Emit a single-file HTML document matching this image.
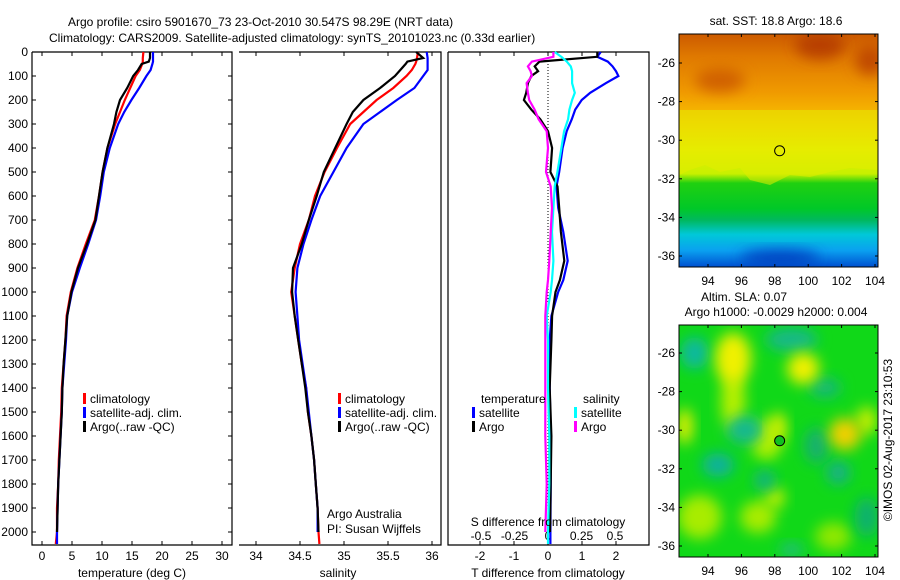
<!DOCTYPE html>
<html><head><meta charset="utf-8"><style>
body{margin:0;background:#fff;width:900px;height:580px;overflow:hidden}
svg{display:block;font-family:"Liberation Sans",sans-serif;font-size:12px}
</style></head><body>
<svg id="fig" width="900" height="580" xmlns="http://www.w3.org/2000/svg">
<defs>
<linearGradient id="sstg" x1="0" y1="0" x2="0" y2="1">
<stop offset="0" stop-color="#cc5a00"/><stop offset="0.1" stop-color="#e07a00"/><stop offset="0.25" stop-color="#f09a00"/><stop offset="0.38" stop-color="#f8c400"/><stop offset="0.5" stop-color="#e8ec00"/><stop offset="0.6" stop-color="#c8f000"/><stop offset="0.64" stop-color="#20d010"/><stop offset="0.75" stop-color="#00c828"/><stop offset="0.8" stop-color="#00b860"/><stop offset="0.86" stop-color="#00c8d8"/><stop offset="0.93" stop-color="#0aa0f0"/><stop offset="1" stop-color="#0050d0"/>
</linearGradient>
<filter id="blur" x="-50%" y="-50%" width="200%" height="200%"><feGaussianBlur stdDeviation="7"/></filter>
<clipPath id="m1"><rect x="679" y="34" width="199" height="233"/></clipPath>
<clipPath id="m2"><rect x="679" y="325" width="199" height="232"/></clipPath>
</defs>
<text x="68" y="26">Argo profile: csiro 5901670_73 23-Oct-2010 30.547S 98.29E (NRT data)</text>
<text x="49" y="42">Climatology: CARS2009. Satellite-adjusted climatology: synTS_20101023.nc (0.33d earlier)</text>
<g id="g1"></g>
<g id="g2"></g>
<g id="g3"></g>
<g id="maps"></g>
<text transform="translate(892,440) rotate(-90)" text-anchor="middle">©IMOS 02-Aug-2017 23:10:53</text>
</svg>
<script>
const NS="http://www.w3.org/2000/svg";
// depth levels (m)
const depths=[0,25,40,50,75,100,150,200,250,300,400,500,600,700,800,900,1000,1100,1200,1300,1400,1500,1600,1700,1800,1900,2000,2050];
const tempClim=[16.9,16.8,16.8,16.7,16.3,15.6,14.7,13.8,13.0,12.2,10.9,10.1,9.5,8.8,7.3,5.9,4.8,4.1,3.9,3.6,3.3,3.2,3.0,2.8,2.7,2.5,2.5,2.3];
const tempSat=[18.5,18.5,18.5,18.4,18.1,17.4,16.2,14.9,13.7,12.7,11.3,10.3,9.7,9.0,7.7,6.3,5.0,4.2,4.0,3.7,3.4,3.3,3.1,2.9,2.7,2.6,2.5,2.5];
const tempArgo=[18.0,18.0,17.8,16.6,16.0,15.2,14.2,13.0,12.4,12.0,10.9,10.1,9.5,8.9,7.5,6.0,4.9,4.2,3.9,3.6,3.4,3.3,3.1,2.9,2.7,2.6,2.5,null];
const salClim=[35.84,35.83,35.82,35.81,35.77,35.71,35.56,35.37,35.22,35.07,34.92,34.78,34.67,34.60,34.50,34.44,34.40,34.44,34.48,34.52,34.57,34.59,34.63,34.66,34.68,34.70,34.71,34.72];
const salSat=[35.94,35.95,35.95,35.95,35.95,35.90,35.80,35.60,35.41,35.22,35.03,34.88,34.73,34.63,34.54,34.47,34.45,34.47,34.49,34.53,34.57,34.60,34.63,34.66,34.68,34.70,34.70,null];
const salArgo=[35.82,35.90,35.72,35.70,35.64,35.58,35.41,35.22,35.10,35.03,34.90,34.77,34.69,34.60,34.52,34.42,34.41,34.44,34.48,34.52,34.56,34.59,34.63,34.66,34.68,34.70,34.71,null];
// difference profiles
const dDepths=[0,20,40,60,80,100,130,170,200,240,280,330,400,500,560,650,750,870,950,1000,1100,1200,1400,1600,1800,2000,2050];
const dTsat=[1.55,1.45,1.76,1.9,2.0,2.07,1.7,1.24,0.99,0.8,0.7,0.55,0.43,0.33,0.25,0.3,0.45,0.58,0.45,0.3,0.1,0.05,0.05,0.08,0.08,0.07,0.07];
const dTargo=[1.45,1.45,-0.25,-0.39,-0.29,-0.49,-0.59,-0.64,-0.71,-0.49,-0.23,0.0,0.12,0.07,0.28,0.33,0.38,0.48,0.35,0.22,0.12,0.1,0.05,0.1,0.08,0.06,null];
const dSsat=[0.05,0.1,0.14,0.17,0.18,0.18,0.18,0.2,0.18,0.16,0.15,0.12,0.1,0.07,0.05,0.04,0.03,0.04,0.03,0.02,-0.01,0.0,0.0,0.01,0.01,0.0,0.0];
const dSargo=[0.04,0.04,-0.12,-0.15,-0.13,-0.12,-0.16,-0.15,-0.14,-0.1,-0.07,-0.01,0.0,-0.015,0.02,0.03,0.02,0.01,0.0,-0.01,-0.02,-0.02,-0.02,-0.02,-0.01,-0.02,null];
const depthTicks=[0,100,200,300,400,500,600,700,800,900,1000,1100,1200,1300,1400,1500,1600,1700,1800,1900,2000];
const tTicks=[0,5,10,15,20,25,30];
const sTicks=[34,34.5,35,35.5,36];
const dTTicks=[-2,-1,0,1,2];
const dSTicks=[-0.5,-0.25,0,0.25,0.5];
const lonTicks=[94,96,98,100,102,104];
const latTicks=[-26,-28,-30,-32,-34,-36];
const argoLon=98.29, argoLat=-30.547;

const TOP=52,BOT=545;
const yD=d=>TOP+d*0.24;
const xT=t=>42+t*6;
const xS=s=>256+(s-34)*88;
const xDT=v=>548+v*34;
const xDS=v=>548+v*134;

function el(tag,attrs,parent,text){const e=document.createElementNS(NS,tag);for(const k in attrs)e.setAttribute(k,attrs[k]);if(text!==undefined)e.textContent=text;parent.appendChild(e);return e;}
function line(vals,ds,fx,color,parent,name,w){
  let pts=[];
  for(let i=0;i<vals.length;i++){if(vals[i]===null)continue;pts.push(fx(vals[i]).toFixed(1)+","+yD(ds[i]).toFixed(1));}
  const p=el("polyline",{points:pts.join(" "),fill:"none",stroke:color,"stroke-width":w||2.2,"stroke-linejoin":"miter"},parent);
  
  
}
function box(parent,x0,x1,left,name){
  const g=el("g",{},parent);
  
  
  let d=`M${x0},${TOP}H${x1}V${BOT}H${x0}`+(left?`V${TOP}`:"");
  el("path",{d:d,fill:"none",stroke:"#000","stroke-width":1.2},g);
}
function legend(parent,x,y,color,label,name){
  const r=el("rect",{x:x,y:y-6,width:3,height:11,fill:color},parent);
  
  
  const t=el("text",{x:x+7,y:y+4},parent,label);
  
  
}

// Panel 1
const g1=document.getElementById("g1");
box(g1,32,232,true,"temperature-axes-box");
depthTicks.forEach(d=>{
  el("line",{x1:32,x2:36,y1:yD(d),y2:yD(d),stroke:"#000"},g1);
  el("line",{x1:228,x2:232,y1:yD(d),y2:yD(d),stroke:"#000"},g1);
  const t=el("text",{x:28,y:yD(d)+4,"text-anchor":"end"},g1,String(d));
  
  
});
tTicks.forEach(v=>{
  el("line",{x1:xT(v),x2:xT(v),y1:TOP,y2:TOP+4,stroke:"#000"},g1);
  el("line",{x1:xT(v),x2:xT(v),y1:BOT,y2:BOT-4,stroke:"#000"},g1);
  const t=el("text",{x:xT(v),y:560,"text-anchor":"middle"},g1,String(v));
  
  
});
let t1=el("text",{x:132,y:577,"text-anchor":"middle"},g1,"temperature (deg C)");


line(tempClim,depths,xT,"#ff0000",g1,"temp-climatology-line");
line(tempSat,depths,xT,"#0000ff",g1,"temp-satellite-line");
line(tempArgo,depths,xT,"#000000",g1,"temp-argo-line");
legend(g1,83,399,"#ff0000","climatology","temp-legend-climatology");
legend(g1,83,413,"#0000ff","satellite-adj. clim.","temp-legend-satellite");
legend(g1,83,427,"#000","Argo(..raw -QC)","temp-legend-argo");

// Panel 2
const g2=document.getElementById("g2");
box(g2,239,441,false,"salinity-axes-box");
sTicks.forEach(v=>{
  el("line",{x1:xS(v),x2:xS(v),y1:TOP,y2:TOP+4,stroke:"#000"},g2);
  el("line",{x1:xS(v),x2:xS(v),y1:BOT,y2:BOT-4,stroke:"#000"},g2);
  const t=el("text",{x:xS(v),y:560,"text-anchor":"middle"},g2,String(v));
  
  
});
let t2=el("text",{x:338,y:577,"text-anchor":"middle"},g2,"salinity");


line(salClim,depths,xS,"#ff0000",g2,"sal-climatology-line");
line(salSat,depths,xS,"#0000ff",g2,"sal-satellite-line");
line(salArgo,depths,xS,"#000000",g2,"sal-argo-line");
legend(g2,338,399,"#ff0000","climatology","sal-legend-climatology");
legend(g2,338,413,"#0000ff","satellite-adj. clim.","sal-legend-satellite");
legend(g2,338,427,"#000","Argo(..raw -QC)","sal-legend-argo");
let a1=el("text",{x:327,y:518},g2,"Argo Australia");


let a2=el("text",{x:327,y:533},g2,"PI: Susan Wijffels");



// Panel 3
const g3=document.getElementById("g3");
box(g3,448,649,true,"difference-axes-box");
el("line",{x1:548,x2:548,y1:TOP,y2:BOT,stroke:"#000","stroke-dasharray":"1,2"},g3);
dTTicks.forEach(v=>{
  el("line",{x1:xDT(v),x2:xDT(v),y1:TOP,y2:TOP+4,stroke:"#000"},g3);
  el("line",{x1:xDT(v),x2:xDT(v),y1:BOT,y2:BOT-4,stroke:"#000"},g3);
  const t=el("text",{x:xDT(v),y:560,"text-anchor":"middle"},g3,String(v));
  
  
});
dSTicks.forEach(v=>{
  const t=el("text",{x:xDS(v),y:540,"text-anchor":"middle"},g3,(v===0?"0":String(v)));
  
  
});
line(dTsat,dDepths,xDT,"#0000ff",g3,"t-diff-satellite-line");
line(dTargo,dDepths,xDT,"#000000",g3,"t-diff-argo-line");
line(dSsat,dDepths,xDS,"#00ffff",g3,"s-diff-satellite-line");
line(dSargo,dDepths,xDS,"#ff00ff",g3,"s-diff-argo-line");
let t3=el("text",{x:548,y:577,"text-anchor":"middle"},g3,"T difference from climatology");


let t4=el("text",{x:548,y:526,"text-anchor":"middle"},g3,"S difference from climatology");


let lt=el("text",{x:481,y:403},g3,"temperature");


let ls=el("text",{x:583,y:403},g3,"salinity");


legend(g3,472,413,"#0000ff","satellite","legend-t-satellite");
legend(g3,472,427,"#000","Argo","legend-t-argo");
legend(g3,574,413,"#00ffff","satellite","legend-s-satellite");
legend(g3,574,427,"#ff00ff","Argo","legend-s-argo");

// Maps
const maps=document.getElementById("maps");
const lonX=l=>708+(l-94)*16.7;
function mapAxes(y0,y1,latBase,name){
  const g=el("g",{},maps);
  
  
  const latY=la=>latBase+(-26-la)*19.3;
  el("rect",{x:679,y:y0,width:199,height:y1-y0,fill:"none",stroke:"#000"},g);
  lonTicks.forEach(l=>{
    el("line",{x1:lonX(l),x2:lonX(l),y1:y0,y2:y0+3,stroke:"#000"},g);
    el("line",{x1:lonX(l),x2:lonX(l),y1:y1,y2:y1-3,stroke:"#000"},g);
    const t=el("text",{x:lonX(l),y:y1+18,"text-anchor":"middle"},g,String(l));
    
    
  });
  latTicks.forEach(la=>{
    el("line",{x1:679,x2:682,y1:latY(la),y2:latY(la),stroke:"#000"},g);
    el("line",{x1:875,x2:878,y1:latY(la),y2:latY(la),stroke:"#000"},g);
    const t=el("text",{x:675,y:latY(la)+4,"text-anchor":"end"},g,String(la));
    
    
  });
  return latY;
}
// SST map
const sst=el("g",{"clip-path":"url(#m1)"},maps);


el("rect",{x:679,y:34,width:199,height:233,fill:"url(#sstg)"},sst);
el("path",{d:"M679,175 L690,170 L705,165 L720,172 L740,168 L750,180 L770,185 L790,175 L810,177 L830,172 L850,168 L878,170 L878,110 L679,110Z",fill:"#e4ec00",opacity:0.55},sst);
el("ellipse",{cx:820,cy:45,rx:25,ry:14,fill:"#b84000",filter:"url(#blur)"},sst);
el("ellipse",{cx:870,cy:60,rx:15,ry:15,fill:"#c04800",filter:"url(#blur)"},sst);
el("ellipse",{cx:720,cy:80,rx:25,ry:12,fill:"#d06000",filter:"url(#blur)"},sst);
el("ellipse",{cx:780,cy:258,rx:40,ry:8,fill:"#0040c0",filter:"url(#blur)"},sst);
const sstY=mapAxes(34,267,63,"sst-map-axes");
let c1=el("circle",{cx:lonX(argoLon),cy:sstY(argoLat),r:5,fill:"none",stroke:"#000"},maps);


let mt1=el("text",{x:776,y:25,"text-anchor":"middle"},maps,"sat. SST: 18.8 Argo: 18.6");


// SLA map
const sla=el("g",{"clip-path":"url(#m2)"},maps);


el("rect",{x:679,y:325,width:199,height:232,fill:"#10d818"},sla);
const slaLatY=la=>353+(-26-la)*19.3;
const blobs=[
[93.5,-34.5,22,22,"#a8ec00"],[97,-34.5,18,16,"#a8ec00"],[101.5,-35.5,18,14,"#90e800"],[95.5,-28.5,12,30,"#b8f000"],[97.5,-30.5,16,20,"#b0f000"],[98,-33.5,10,10,"#c8f000"],[103.5,-29.5,10,14,"#c8f000"],
[99,-25.3,26,12,"#18b888"],[93.2,-26,14,16,"#10b8a0"],[96.2,-30,18,14,"#18b890"],[94.6,-31.8,16,12,"#10b0a0"],[100.5,-30.8,12,18,"#18b070"],[101.8,-32.2,12,12,"#18b088"],[97.4,-32.6,10,10,"#18b088"],[103.5,-34.5,12,20,"#10b070"],[101,-27.8,16,10,"#18b878"],[99,-36.2,12,6,"#20b890"],
[95.5,-26.3,18,26,"#f0f000"],[99.7,-26.8,16,16,"#f0f000"],[102.2,-30.2,16,16,"#f0d000"],[92.6,-29.8,8,18,"#e8f000"],[98.2,-29.8,8,14,"#d8f000"]];
blobs.forEach(b=>{
  const e=el("ellipse",{cx:lonX(b[0]),cy:slaLatY(b[1]),rx:b[2],ry:b[3],fill:b[4],filter:"url(#blur)"},sla);
  
  
});
mapAxes(325,557,353,"sla-map-axes");
let c2=el("circle",{cx:lonX(argoLon),cy:slaLatY(argoLat),r:5,fill:"#10c020",stroke:"#000"},maps);


let mt2=el("text",{x:744,y:301,"text-anchor":"middle"},maps,"Altim. SLA: 0.07");


let mt3=el("text",{x:776,y:316,"text-anchor":"middle"},maps,"Argo h1000: -0.0029 h2000: 0.004");


</script>
</body></html>
